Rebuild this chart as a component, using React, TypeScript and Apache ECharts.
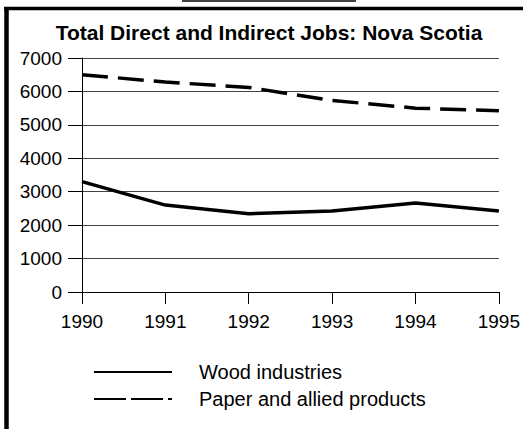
import React, { useEffect, useRef } from "react";
import * as echarts from "echarts";

const years = ["1990", "1991", "1992", "1993", "1994", "1995"];
const woodIndustries = [3300, 2600, 2340, 2420, 2660, 2420];
const paperAllied = [6500, 6280, 6120, 5730, 5500, 5420];
const yTicks = { min: 0, max: 7000, interval: 1000 };
const titleText = "Total Direct and Indirect Jobs: Nova Scotia";
const seriesNames = ["Wood industries", "Paper and allied products"];

const FONT = "'Liberation Sans', Arial, Helvetica, sans-serif";

export default function App() {
  const ref = useRef<HTMLDivElement>(null);
  useEffect(() => {
    document.body.style.margin = "0";
    const chart = echarts.init(ref.current!, null, { renderer: "svg" });
    chart.setOption({
      animation: false,
      backgroundColor: "#ffffff",
      title: {
        text: titleText,
        left: 269,
        top: 22,
        textAlign: "center",
        padding: 0,
        textStyle: { fontFamily: FONT, fontSize: 21, fontWeight: "bold", color: "#000" },
      },
      grid: { left: 82, right: 22, top: 58, bottom: 137, containLabel: false },
      xAxis: {
        type: "category",
        data: years,
        boundaryGap: false,
        axisLine: { show: true, lineStyle: { color: "#000", width: 1 } },
        axisTick: { show: true, length: 12, lineStyle: { color: "#000", width: 1 } },
        axisLabel: { margin: 20, fontFamily: FONT, fontSize: 19, color: "#000" },
        splitLine: { show: false },
      },
      yAxis: {
        type: "value",
        min: yTicks.min,
        max: yTicks.max,
        interval: yTicks.interval,
        axisLine: { show: true, lineStyle: { color: "#000", width: 1 } },
        axisTick: { show: true, length: 14, lineStyle: { color: "#000", width: 1 } },
        axisLabel: {
          margin: 20,
          fontFamily: FONT,
          fontSize: 19,
          color: "#000",
          formatter: (v: number) => String(v),
        },
        splitLine: { show: true, lineStyle: { color: "#444", width: 1 } },
      },
      series: [
        {
          name: seriesNames[0],
          type: "line",
          data: woodIndustries,
          symbol: "none",
          lineStyle: { color: "#000", width: 3.5, type: "solid" },
        },
        {
          name: seriesNames[1],
          type: "line",
          data: paperAllied,
          symbol: "none",
          lineStyle: { color: "#000", width: 3.5, type: [26, 10] },
        },
      ],
      graphic: [
        { type: "line", shape: { x1: 182, y1: 1, x2: 356, y2: 1 }, style: { stroke: "#000", lineWidth: 1.5 } },
        { type: "line", shape: { x1: 4, y1: 8.5, x2: 523, y2: 8.5 }, style: { stroke: "#000", lineWidth: 3.5 } },
        { type: "line", shape: { x1: 6.5, y1: 7, x2: 6.5, y2: 429 }, style: { stroke: "#000", lineWidth: 4.5 } },
        { type: "line", shape: { x1: 94, y1: 372, x2: 172, y2: 372 }, style: { stroke: "#000", lineWidth: 2 } },
        {
          type: "text",
          x: 199,
          y: 372,
          style: { text: seriesNames[0], fill: "#000", font: `20px ${FONT}`, verticalAlign: "middle", align: "left" },
        },
        {
          type: "line",
          shape: { x1: 94, y1: 399, x2: 172, y2: 399 },
          style: { stroke: "#000", lineWidth: 2, lineDash: [32, 5] },
        },
        {
          type: "text",
          x: 199,
          y: 399,
          style: { text: seriesNames[1], fill: "#000", font: `20px ${FONT}`, verticalAlign: "middle", align: "left" },
        },
      ],
    });
    return () => chart.dispose();
  }, []);
  return <div ref={ref} style={{ width: 523, height: 429 }} />;
}
